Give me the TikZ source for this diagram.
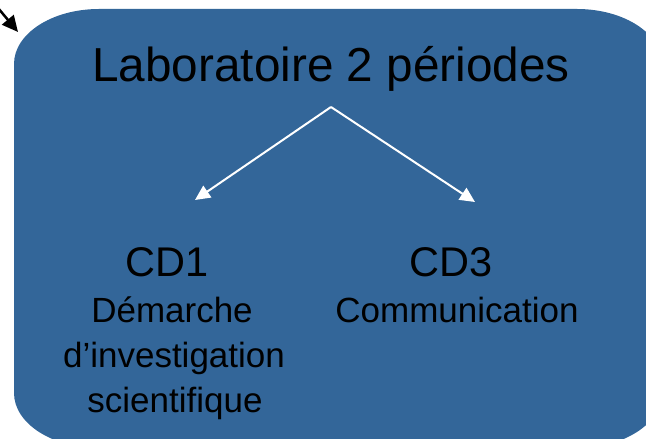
\documentclass[tikz,border=0pt]{standalone}
\usepackage{fontspec}
\setmainfont{Liberation Sans}
\usetikzlibrary{arrows.meta}
\definecolor{boxblue}{HTML}{336699}
\tikzset{
  lbl/.style={anchor=base, inner sep=0pt, text=black},
  whitearrow/.style={draw=white, line width=2pt, -{Triangle[length=15pt,width=14pt]}},
  blackarrow/.style={draw=black, line width=2.5pt, -{Triangle[length=16pt,width=15pt]}}
}
\begin{document}
\begin{tikzpicture}[x=1pt,y=1pt]
\useasboundingbox (0,0) rectangle (646,439);
% rounded box with elliptical corners
\fill[boxblue] (99,430) -- (577,430)
  arc[start angle=90, end angle=0, x radius=85, y radius=55]
  -- (662,46)
  arc[start angle=0, end angle=-90, x radius=85, y radius=55]
  -- (99,-9)
  arc[start angle=270, end angle=180, x radius=85, y radius=55]
  -- (14,375)
  arc[start angle=180, end angle=90, x radius=85, y radius=55]
  -- cycle;
% texts
\node[lbl, font=\fontsize{47.7}{55}\selectfont] (title) at (331,357) {Laboratoire 2 périodes};
\node[lbl, font=\fontsize{41.5}{48}\selectfont] (cd1) at (167,162) {CD1};
\node[lbl, font=\fontsize{41.5}{48}\selectfont] (cd3) at (451,162) {CD3};
\node[lbl, font=\fontsize{35}{45}\selectfont] (cd1a) at (172,116) {Démarche};
\node[lbl, font=\fontsize{35}{45}\selectfont] (cd1b) at (174,71) {d’investigation};
\node[lbl, font=\fontsize{35}{45}\selectfont] (cd1c) at (175,26) {scientifique};
\node[lbl, font=\fontsize{35}{45}\selectfont] (cd3a) at (457,116) {Communication};
% connectors
\coordinate (apex) at (331,332);
\coordinate (tipL) at (195,239);
\coordinate (tipR) at (475,237);
\draw[whitearrow] (apex) -- (tipL);
\draw[whitearrow] (apex) -- (tipR);
\coordinate (bstart) at (-2,431);
\coordinate (btip) at (18,407);
\draw[blackarrow] (bstart) -- (btip);
\end{tikzpicture}
\end{document}
